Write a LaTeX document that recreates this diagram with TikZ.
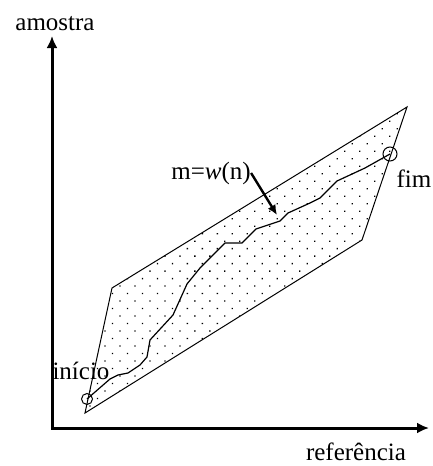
\documentclass[tikz,border=0pt]{standalone}
\usepackage{fontspec}
\setmainfont{Liberation Serif}
\usetikzlibrary{arrows.meta,patterns.meta}

\begin{document}
\begin{tikzpicture}[x=0.5pt, y=-0.5pt, >=Latex,
  axis/.style={line width=1.5pt},
  region/.style={draw, line width=0.5pt, pattern={Dots[distance=5.3pt, angle=45, radius=0.45pt]}},
  curve/.style={line width=0.6pt},
  endpt/.style={draw, circle, inner sep=0pt, minimum size=5.5pt, line width=0.5pt},
  lbl/.style={font=\fontsize{12.5}{14}\selectfont, inner sep=0pt}]
  \useasboundingbox (0,0) rectangle (433,466);
  \coordinate (o) at (52,428);
  \coordinate (ytip) at (52,36);
  \coordinate (xtip) at (429,428);
  \node[lbl] (amostra) at (55,24) {amostra};
  \node[lbl] (ref) at (356,452) {referência};
  \draw[axis,{Latex[length=6pt,width=5.5pt]}-{Latex[length=6pt,width=5.5pt]}] (ytip) -- (o) -- (xtip);
  \draw[region] (85,413) -- (112,288) -- (407,107) -- (362,240) -- cycle;
  \node[endpt] (ini) at (87,399) {};
  \node[endpt, minimum size=7pt] (fim) at (390,154) {};
  \draw[curve] (ini.center) -- (110,379) -- (118,375) -- (128,373) -- (140,365)
    -- (147,357) -- (150,340) -- (173,315) -- (187,284) -- (200,268) -- (225,243)
    -- (242,243) -- (256,229) -- (280,221) -- (288,213) -- (310,203) -- (320,198)
    -- (337,181) -- (365,168) -- (fim.center);
  \node[lbl] (inicio) at (81,371) {início};
  \node[lbl] (fimlbl) at (414,179) {fim};
  \node[lbl] (mw) at (211,173) {m=\textit{w}(n)};
  \coordinate (mwtip) at (277,215);
  \draw[line width=1.2pt,-{Latex[length=5pt,width=4.5pt]}] (mw.east) -- (mwtip);
\end{tikzpicture}
\end{document}
